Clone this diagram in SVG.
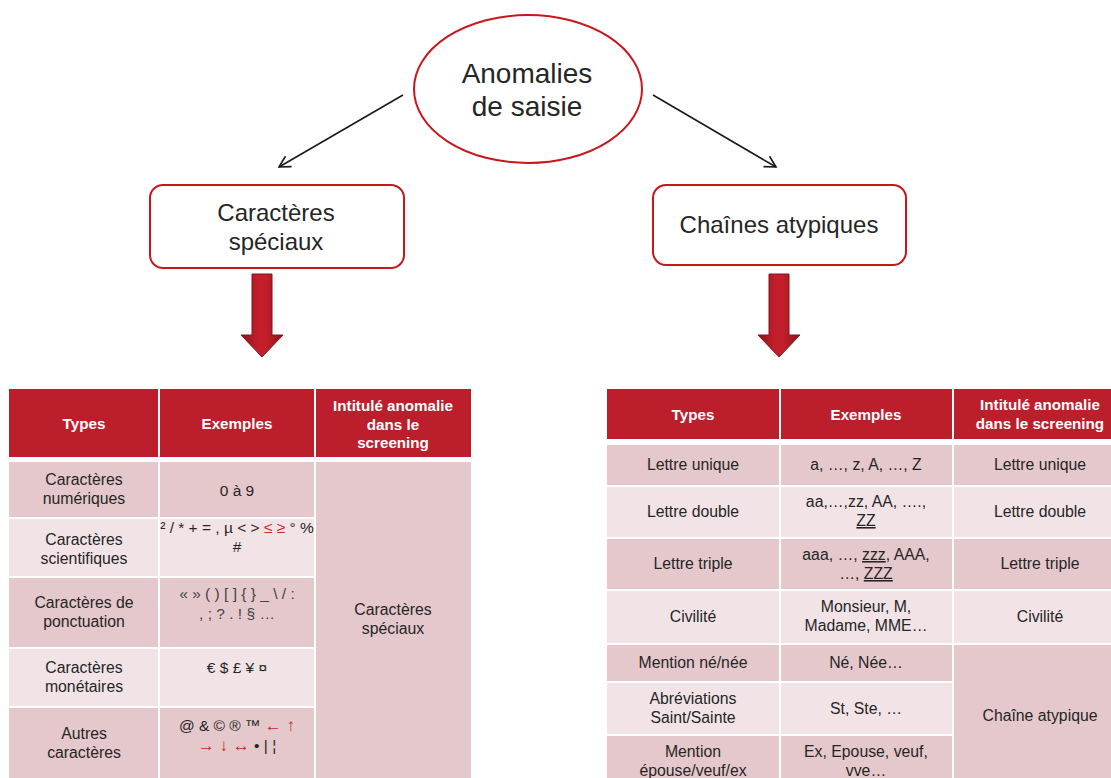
<svg xmlns="http://www.w3.org/2000/svg" width="1111" height="778" viewBox="0 0 1111 778">
  <style>
    text { font-family: "Liberation Sans", Arial, sans-serif; fill: #262626; text-anchor: middle; }
    .title { font-size: 28px; }
    .box-label { font-size: 24px; }
    .hd { font-size: 15.2px; font-weight: bold; fill: #ffffff; }
    .cell { font-size: 15.8px; }
    .ex { font-size: 15.5px; }
    .red { fill: #D2232A; }
    .uline { text-decoration: underline; }
    .node-shape { fill: #ffffff; stroke: #C8161D; stroke-width: 2; }
    .hdr { fill: #BD1E2B; }
    .dark { fill: #E5C8CB; }
    .light { fill: #F2E4E6; }
    .conn { stroke: #1a1a1a; stroke-width: 1.6; fill: none; }
  </style>
  <defs>
    <marker id="open-arrow" viewBox="0 0 14 14" refX="12" refY="7" markerWidth="14" markerHeight="14" markerUnits="userSpaceOnUse" orient="auto">
      <path d="M1,1 L12,7 L1,13" fill="none" stroke="#1a1a1a" stroke-width="1.6"/>
    </marker>
    <linearGradient id="block-arrow" x1="0" y1="0" x2="1" y2="0">
      <stop offset="0" stop-color="#8A141A"/>
      <stop offset="0.4" stop-color="#C21F2B"/>
      <stop offset="0.6" stop-color="#C21F2B"/>
      <stop offset="1" stop-color="#8A141A"/>
    </linearGradient>
  </defs>

  <rect width="1111" height="778" fill="#ffffff"/>

  <!-- root node -->
  <g id="node-anomalies">
    <ellipse class="node-shape" cx="528" cy="89" rx="114" ry="74"/>
    <text class="title" x="527" y="83">Anomalies</text>
    <text class="title" x="527" y="116">de saisie</text>
  </g>

  <!-- category nodes -->
  <g id="node-caracteres">
    <rect class="node-shape" x="150" y="185" width="254" height="83" rx="13"/>
    <text class="box-label" x="276" y="221">Caractères</text>
    <text class="box-label" x="276" y="250">spéciaux</text>
  </g>
  <g id="node-chaines">
    <rect class="node-shape" x="653" y="185" width="253" height="80" rx="13"/>
    <text class="box-label" x="779" y="233">Chaînes atypiques</text>
  </g>

  <!-- connectors -->
  <g id="connectors">
    <line class="conn" x1="403" y1="95" x2="279" y2="167" marker-end="url(#open-arrow)"/>
    <line class="conn" x1="653" y1="95" x2="776" y2="167" marker-end="url(#open-arrow)"/>
    <path d="M252,274 H272 V335 H283 L262,357 L241,335 H252 Z" fill="url(#block-arrow)" stroke="#8A151B" stroke-width="1"/>
    <path d="M769,274 H789 V335 H800 L779,357 L758,335 H769 Z" fill="url(#block-arrow)" stroke="#8A151B" stroke-width="1"/>
  </g>

  <!-- table: special characters -->
  <g id="table-caracteres">
    <rect class="hdr" x="9" y="389" width="149" height="68"/>
    <rect class="hdr" x="160" y="389" width="154" height="68"/>
    <rect class="hdr" x="316" y="389" width="155" height="68"/>
    <text class="hd" x="84" y="429">Types</text>
    <text class="hd" x="237" y="429">Exemples</text>
    <text class="hd" x="393" y="411">Intitulé anomalie</text>
    <text class="hd" x="393" y="430">dans le</text>
    <text class="hd" x="393" y="448">screening</text>

    <rect class="dark" x="9" y="462" width="149" height="55"/>
    <rect class="dark" x="160" y="462" width="154" height="55"/>
    <rect class="light" x="9" y="519" width="149" height="57"/>
    <rect class="light" x="160" y="519" width="154" height="57"/>
    <rect class="dark" x="9" y="578" width="149" height="69"/>
    <rect class="dark" x="160" y="578" width="154" height="69"/>
    <rect class="light" x="9" y="649" width="149" height="57"/>
    <rect class="light" x="160" y="649" width="154" height="57"/>
    <rect class="dark" x="9" y="708" width="149" height="70"/>
    <rect class="dark" x="160" y="708" width="154" height="70"/>
    <rect class="dark" x="316" y="462" width="155" height="316"/>

    <text class="cell" x="84" y="485">Caractères</text>
    <text class="cell" x="84" y="504">numériques</text>
    <text class="ex" x="237" y="496">0 à 9</text>

    <text class="cell" x="84" y="545">Caractères</text>
    <text class="cell" x="84" y="564">scientifiques</text>
    <text class="ex" x="237" y="533">² / * + = , µ &lt; &gt; <tspan class="red">≤ ≥</tspan> ° %</text>
    <text class="ex" x="237" y="552">#</text>

    <text class="cell" x="84" y="608">Caractères de</text>
    <text class="cell" x="84" y="627">ponctuation</text>
    <text class="ex" x="237" y="599" style="fill:#444">«  » ( ) [ ] { } _ \ / :</text>
    <text class="ex" x="237" y="619" style="fill:#444">, ; ? . ! § …</text>

    <text class="cell" x="84" y="673">Caractères</text>
    <text class="cell" x="84" y="692">monétaires</text>
    <text class="ex" x="237" y="673">€ $ £ ¥ ¤</text>

    <text class="cell" x="84" y="739">Autres</text>
    <text class="cell" x="84" y="758">caractères</text>
    <text class="ex" x="237" y="731">@ &amp; © ® ™ <tspan class="red" style="font-size:17px">← ↑</tspan></text>
    <text class="ex" x="237" y="751"><tspan class="red" style="font-size:17px">→ ↓ ↔</tspan> • | ¦</text>

    <text class="cell" x="393" y="615">Caractères</text>
    <text class="cell" x="393" y="634">spéciaux</text>
  </g>

  <!-- table: atypical strings -->
  <g id="table-chaines">
    <rect class="hdr" x="607" y="389" width="172" height="50"/>
    <rect class="hdr" x="781" y="389" width="171" height="50"/>
    <rect class="hdr" x="954" y="389" width="157" height="50"/>
    <text class="hd" x="693" y="420">Types</text>
    <text class="hd" x="866" y="420">Exemples</text>
    <text class="hd" x="1040" y="410">Intitulé anomalie</text>
    <text class="hd" x="1040" y="429">dans le screening</text>

    <rect class="dark" x="607" y="445" width="172" height="40"/>
    <rect class="dark" x="781" y="445" width="171" height="40"/>
    <rect class="dark" x="954" y="445" width="157" height="40"/>
    <rect class="light" x="607" y="487" width="172" height="50"/>
    <rect class="light" x="781" y="487" width="171" height="50"/>
    <rect class="light" x="954" y="487" width="157" height="50"/>
    <rect class="dark" x="607" y="539" width="172" height="50"/>
    <rect class="dark" x="781" y="539" width="171" height="50"/>
    <rect class="dark" x="954" y="539" width="157" height="50"/>
    <rect class="light" x="607" y="591" width="172" height="52"/>
    <rect class="light" x="781" y="591" width="171" height="52"/>
    <rect class="light" x="954" y="591" width="157" height="52"/>
    <rect class="dark" x="607" y="645" width="172" height="36"/>
    <rect class="dark" x="781" y="645" width="171" height="36"/>
    <rect class="light" x="607" y="683" width="172" height="51"/>
    <rect class="light" x="781" y="683" width="171" height="51"/>
    <rect class="dark" x="607" y="736" width="172" height="42"/>
    <rect class="dark" x="781" y="736" width="171" height="42"/>
    <rect class="dark" x="954" y="645" width="157" height="133"/>

    <text class="cell" x="693" y="470">Lettre unique</text>
    <text class="cell" x="866" y="470">a, …, z, A, …, Z</text>
    <text class="cell" x="1040" y="470">Lettre unique</text>

    <text class="cell" x="693" y="517">Lettre double</text>
    <text class="cell" x="866" y="507">aa,…,zz, AA, ….,</text>
    <text class="cell" x="866" y="526"><tspan class="uline">ZZ</tspan></text>
    <text class="cell" x="1040" y="517">Lettre double</text>

    <text class="cell" x="693" y="569">Lettre triple</text>
    <text class="cell" x="866" y="560">aaa, …, <tspan class="uline">zzz</tspan>, AAA,</text>
    <text class="cell" x="866" y="579">…, <tspan class="uline">ZZZ</tspan></text>
    <text class="cell" x="1040" y="569">Lettre triple</text>

    <text class="cell" x="693" y="622">Civilité</text>
    <text class="cell" x="866" y="612">Monsieur, M,</text>
    <text class="cell" x="866" y="631">Madame, MME…</text>
    <text class="cell" x="1040" y="622">Civilité</text>

    <text class="cell" x="693" y="668">Mention né/née</text>
    <text class="cell" x="866" y="668">Né, Née…</text>

    <text class="cell" x="693" y="704">Abréviations</text>
    <text class="cell" x="693" y="723">Saint/Sainte</text>
    <text class="cell" x="866" y="714">St, Ste, …</text>

    <text class="cell" x="693" y="757">Mention</text>
    <text class="cell" x="693" y="776">épouse/veuf/ex</text>
    <text class="cell" x="866" y="757">Ex, Epouse, veuf,</text>
    <text class="cell" x="866" y="776">vve…</text>

    <text class="cell" x="1040" y="721">Chaîne atypique</text>
  </g>
</svg>
